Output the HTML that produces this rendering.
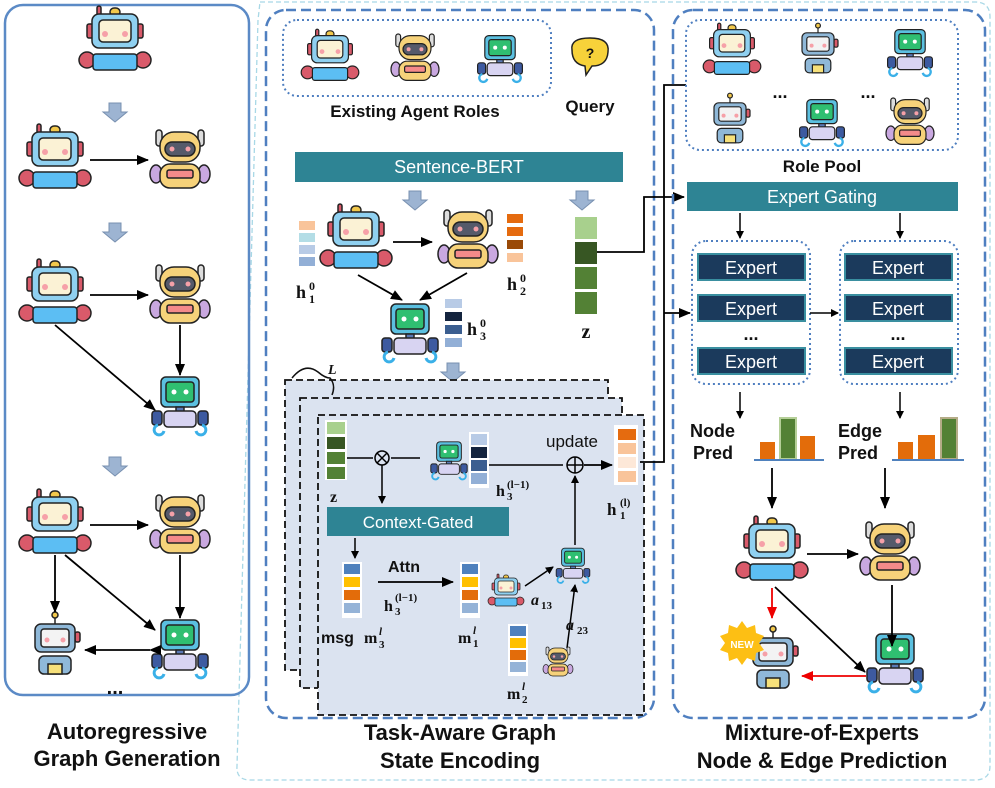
<!DOCTYPE html>
<html><head><meta charset="utf-8"><style>
html,body{margin:0;padding:0;background:#fff;}
svg{display:block;}
text{font-family:"Liberation Sans",sans-serif;}
.t{font-weight:bold;fill:#111;}
.m{font-family:"Liberation Serif",serif;font-weight:bold;fill:#111;}
</style></head><body>
<svg width="995" height="788" viewBox="0 0 995 788" xmlns="http://www.w3.org/2000/svg">
<defs>
<marker id="ah" markerWidth="8" markerHeight="8" refX="7" refY="4" orient="auto" markerUnits="userSpaceOnUse"><path d="M0,0 L8,4 L0,8 z" fill="#000"/></marker>
<marker id="ar" markerWidth="12" markerHeight="10" refX="11" refY="5" orient="auto" markerUnits="userSpaceOnUse"><path d="M0,0 L12,5 L0,10 z" fill="#000"/></marker>
<marker id="arr" markerWidth="12" markerHeight="10" refX="11" refY="5" orient="auto" markerUnits="userSpaceOnUse"><path d="M0,0 L12,5 L0,10 z" fill="#e00"/></marker>
<g id="blue" stroke="#222" stroke-width="1.5">
<rect x="-5" y="-34" width="10" height="8" rx="4" fill="#f2c84b"/>
<rect x="-18" y="-36" width="4" height="10" rx="2" fill="#d95a6a"/>
<rect x="-28" y="-18" width="6" height="14" rx="2" fill="#d95a6a"/>
<rect x="22" y="-18" width="6" height="14" rx="2" fill="#d95a6a"/>
<rect x="-23" y="-28" width="46" height="34" rx="7" fill="#8fd0f0"/>
<rect x="-16" y="-22" width="32" height="22" rx="4" fill="#fbf2d5"/>
<circle cx="-10" cy="-8" r="3" fill="#f6a0a8" stroke="none"/><circle cx="10" cy="-8" r="3" fill="#f6a0a8" stroke="none"/>
<circle cx="-28" cy="18" r="8" fill="#d95a6a"/><circle cx="28" cy="18" r="8" fill="#d95a6a"/>
<rect x="-22" y="12" width="44" height="16" rx="3" fill="#5cbef3"/>
</g>
<g id="yellow" stroke="#222" stroke-width="1.5">
<rect x="-24" y="-30" width="6" height="16" rx="3" fill="#ddd"/><rect x="18" y="-30" width="6" height="16" rx="3" fill="#ddd"/>
<ellipse cx="-24" cy="14" rx="6" ry="9" fill="#c9a8e0"/><ellipse cx="24" cy="14" rx="6" ry="9" fill="#c9a8e0"/>
<rect x="-20" y="-28" width="40" height="30" rx="14" fill="#f6d27a"/>
<rect x="-15" y="-18" width="30" height="14" rx="7" fill="#555a6a"/>
<circle cx="-8" cy="-11" r="2.5" fill="#f6a0a8" stroke="none"/><circle cx="8" cy="-11" r="2.5" fill="#f6a0a8" stroke="none"/>
<rect x="-20" y="4" width="40" height="24" rx="10" fill="#f6d27a"/>
<rect x="-13" y="10" width="26" height="8" rx="2" fill="#f48a8a"/>
</g>
<g id="green" stroke="#222" stroke-width="1.5">
<rect x="-19" y="-28" width="38" height="30" rx="5" fill="#5bc0e0"/>
<rect x="-14" y="-23" width="28" height="20" rx="3" fill="#2fbf71"/>
<circle cx="-6" cy="-13" r="2.5" fill="#fff" stroke="none"/><circle cx="6" cy="-13" r="2.5" fill="#fff" stroke="none"/>
<rect x="-4" y="2" width="8" height="5" fill="#5b79b5"/>
<rect x="-16" y="6" width="32" height="16" rx="4" fill="#d8d4f2"/>
<rect x="-28" y="6" width="10" height="14" rx="3" fill="#3d5aa0"/><rect x="18" y="6" width="10" height="14" rx="3" fill="#3d5aa0"/>
<path d="M-22,20 a5,5 0 1 0 6,6 M22,20 a5,5 0 1 1 -6,6" fill="none" stroke="#3ab0e8" stroke-width="3"/>
</g>
<g id="grey" stroke="#222" stroke-width="1.5">
<line x1="0" y1="-32" x2="0" y2="-24"/><circle cx="0" cy="-33" r="3" fill="#f2c84b"/>
<rect x="20" y="-16" width="5" height="10" rx="2" fill="#d95a6a"/>
<rect x="-20" y="-24" width="40" height="28" rx="6" fill="#8fb8d8"/>
<rect x="-14" y="-19" width="28" height="18" rx="3" fill="#f3f3f3"/>
<circle cx="-8" cy="-8" r="2.5" fill="#f6a0a8" stroke="none"/><circle cx="8" cy="-8" r="2.5" fill="#f6a0a8" stroke="none"/>
<rect x="-16" y="8" width="32" height="18" rx="5" fill="#8fb8d8"/>
<rect x="-7" y="16" width="14" height="10" fill="#f6e07a"/>
</g>
<g id="garrow"><path d="M-6,-9 h12 v9 h6 l-12,10 l-12,-10 h6 z" fill="#9db4d2" stroke="#7890b0" stroke-width="1"/></g>
</defs>

<!-- outer light dashed -->
<path d="M260,2 L975,2 Q990,2 990,17 L990,766 Q990,780 975,780 L250,780 Q236,780 237,766 L258,20 Z" fill="none" stroke="#a8d8e6" stroke-width="1.3" stroke-dasharray="5,3"/>

<!-- left panel -->
<rect x="5" y="5" width="244" height="690" rx="18" fill="none" stroke="#5b8ac6" stroke-width="2.5"/>
<use href="#blue" x="115" y="42"/>
<use href="#garrow" x="115" y="112"/>
<use href="#blue" x="55" y="160"/><use href="#yellow" x="180" y="160"/>
<line x1="90" y1="160" x2="148" y2="160" stroke="#000" stroke-width="1.8" marker-end="url(#ar)"/>
<use href="#garrow" x="115" y="232"/>
<use href="#blue" x="55" y="295"/><use href="#yellow" x="180" y="295"/><use href="#green" x="180" y="405"/>
<line x1="90" y1="295" x2="148" y2="295" stroke="#000" stroke-width="1.8" marker-end="url(#ar)"/>
<line x1="180" y1="325" x2="180" y2="375" stroke="#000" stroke-width="1.8" marker-end="url(#ar)"/>
<line x1="55" y1="325" x2="155" y2="410" stroke="#000" stroke-width="1.8" marker-end="url(#ar)"/>
<use href="#garrow" x="115" y="466"/>
<use href="#blue" x="55" y="525"/><use href="#yellow" x="180" y="525"/><use href="#grey" x="55" y="648"/><use href="#green" x="180" y="648"/>
<line x1="90" y1="525" x2="148" y2="525" stroke="#000" stroke-width="1.8" marker-end="url(#ar)"/>
<line x1="180" y1="555" x2="180" y2="618" stroke="#000" stroke-width="1.8" marker-end="url(#ar)"/>
<line x1="55" y1="555" x2="55" y2="612" stroke="#000" stroke-width="1.8" marker-end="url(#ar)"/>
<line x1="65" y1="555" x2="155" y2="630" stroke="#000" stroke-width="1.8" marker-end="url(#ar)"/>
<line x1="150" y1="650" x2="85" y2="650" stroke="#000" stroke-width="1.8" marker-end="url(#ar)" marker-start="url(#ar)"/>
<text x="115" y="694" class="t" font-size="20" text-anchor="middle">...</text>
<text x="127" y="739" class="t" font-size="22" text-anchor="middle">Autoregressive</text>
<text x="127" y="766" class="t" font-size="22" text-anchor="middle">Graph Generation</text>

<!-- middle panel -->
<rect x="266" y="10" width="388" height="708" rx="20" fill="none" stroke="#4f7fc0" stroke-width="2.5" stroke-dasharray="10,5"/>
<rect x="283" y="20" width="268" height="76" rx="14" fill="none" stroke="#4f7fc0" stroke-width="2" stroke-dasharray="2,3"/>
<g transform="translate(330,58) scale(0.8)"><use href="#blue"/></g>
<g transform="translate(415,58) scale(0.8)"><use href="#yellow"/></g>
<g transform="translate(500,58) scale(0.8)"><use href="#green"/></g>
<text x="415" y="117" class="t" font-size="17" text-anchor="middle">Existing Agent Roles</text>
<path d="M572,50 Q570,38 590,38 Q610,38 608,52 Q607,66 592,66 L586,75 L585,66 Q572,64 572,50 z" fill="#f7d23a" stroke="#222" stroke-width="1.5"/>
<text x="590" y="58" font-size="14" text-anchor="middle" class="t">?</text>
<text x="590" y="112" class="t" font-size="17" text-anchor="middle">Query</text>
<rect x="295" y="152" width="328" height="30" fill="#2e8494"/>
<text x="459" y="173" font-size="18" fill="#fff" text-anchor="middle">Sentence-BERT</text>
<use href="#garrow" x="415" y="200"/><use href="#garrow" x="582" y="200"/>
<!-- h1 -->
<rect x="298" y="220" width="18" height="48" fill="#fff"/>
<rect x="299" y="221" width="16" height="9" fill="#f9c49a"/><rect x="299" y="233" width="16" height="9" fill="#b3dde6"/><rect x="299" y="245" width="16" height="9" fill="#b8cbe6"/><rect x="299" y="257" width="16" height="9" fill="#92afd6"/>
<text x="296" y="298" class="m" font-size="18">h</text><text x="309" y="290" class="m" font-size="12">0</text><text x="309" y="303" class="m" font-size="12">1</text>
<use href="#blue" x="356" y="240"/><use href="#yellow" x="468" y="240"/>
<line x1="393" y1="242" x2="432" y2="242" stroke="#000" stroke-width="1.8" marker-end="url(#ar)"/>
<rect x="507" y="214" width="16" height="9" fill="#e56b0f"/><rect x="507" y="227" width="16" height="9" fill="#e56b0f"/><rect x="507" y="240" width="16" height="9" fill="#9a4a08"/><rect x="507" y="253" width="16" height="9" fill="#f9c49a"/>
<text x="507" y="290" class="m" font-size="18">h</text><text x="520" y="282" class="m" font-size="12">0</text><text x="520" y="295" class="m" font-size="12">2</text>
<line x1="358" y1="275" x2="402" y2="300" stroke="#000" stroke-width="1.8" marker-end="url(#ar)"/>
<line x1="467" y1="273" x2="420" y2="300" stroke="#000" stroke-width="1.8" marker-end="url(#ar)"/>
<use href="#green" x="410" y="332"/>
<rect x="445" y="299" width="17" height="9" fill="#b8cbe6"/><rect x="445" y="312" width="17" height="9" fill="#14243e"/><rect x="445" y="325" width="17" height="9" fill="#3b5e90"/><rect x="445" y="338" width="17" height="9" fill="#92afd6"/>
<text x="467" y="335" class="m" font-size="18">h</text><text x="480" y="327" class="m" font-size="12">0</text><text x="480" y="340" class="m" font-size="12">3</text>
<rect x="575" y="217" width="22" height="22" fill="#a8d08d"/><rect x="575" y="242" width="22" height="22" fill="#375623"/><rect x="575" y="267" width="22" height="22" fill="#538135"/><rect x="575" y="292" width="22" height="22" fill="#538135"/>
<text x="586" y="338" class="m" font-size="20" text-anchor="middle">z</text>
<use href="#garrow" x="453" y="372"/>
<!-- layer stack -->
<rect x="285" y="380" width="323" height="290" fill="#dbe3f0" stroke="#111" stroke-width="1.8" stroke-dasharray="7,4"/>
<rect x="300" y="398" width="322" height="290" fill="#dbe3f0" stroke="#111" stroke-width="1.8" stroke-dasharray="7,4"/>
<rect x="318" y="415" width="326" height="300" fill="#dbe3f0" stroke="#111" stroke-width="1.8" stroke-dasharray="7,4"/>
<path d="M292,378 Q305,362 318,372 Q325,378 330,378 Q336,385 332,395" fill="none" stroke="#111" stroke-width="1.5"/>
<text x="328" y="374" class="m" font-size="14" font-style="italic">L</text>
<rect x="325" y="420" width="22" height="60" fill="#fff"/>
<rect x="327" y="422" width="18" height="12" fill="#a8d08d"/><rect x="327" y="437" width="18" height="12" fill="#375623"/><rect x="327" y="452" width="18" height="12" fill="#538135"/><rect x="327" y="467" width="18" height="12" fill="#538135"/>
<text x="330" y="502" class="m" font-size="16">z</text>
<line x1="347" y1="458" x2="373" y2="458" stroke="#000" stroke-width="1.5"/>
<circle cx="382" cy="458" r="7" fill="none" stroke="#000" stroke-width="1.5"/>
<path d="M377,453 L387,463 M387,453 L377,463" stroke="#000" stroke-width="1.5"/>
<line x1="391" y1="458" x2="420" y2="458" stroke="#000" stroke-width="1.5"/>
<line x1="382" y1="465" x2="382" y2="503" stroke="#000" stroke-width="1.5" marker-end="url(#ah)"/>
<g transform="translate(449,460) scale(0.65)"><use href="#green"/></g>
<rect x="469" y="432" width="20" height="56" fill="#fff"/>
<rect x="471" y="434" width="16" height="11" fill="#b8cbe6"/><rect x="471" y="447" width="16" height="11" fill="#14243e"/><rect x="471" y="460" width="16" height="11" fill="#3b5e90"/><rect x="471" y="473" width="16" height="11" fill="#92afd6"/>
<text x="496" y="496" class="m" font-size="16">h</text><text x="507" y="488" class="m" font-size="11">(l−1)</text><text x="507" y="500" class="m" font-size="11">3</text>
<line x1="489" y1="465" x2="563" y2="465" stroke="#000" stroke-width="1.5"/>
<text x="572" y="447" font-size="17" fill="#111" text-anchor="middle">update</text>
<circle cx="575" cy="465" r="8" fill="none" stroke="#000" stroke-width="1.5"/>
<path d="M567,465 H583 M575,457 V473" stroke="#000" stroke-width="1.5"/>
<line x1="584" y1="465" x2="612" y2="465" stroke="#000" stroke-width="1.8" marker-end="url(#ar)"/>
<rect x="614" y="425" width="24" height="60" fill="#fff"/>
<rect x="618" y="429" width="18" height="11" fill="#e56b0f"/><rect x="618" y="443" width="18" height="11" fill="#f9c49a"/><rect x="618" y="457" width="18" height="11" fill="#fde8d8"/><rect x="618" y="471" width="18" height="11" fill="#f9c49a"/>
<text x="607" y="515" class="m" font-size="17">h</text><text x="620" y="506" class="m" font-size="11">(l)</text><text x="620" y="519" class="m" font-size="11">1</text>
<rect x="327" y="507" width="182" height="29" fill="#2e8494"/>
<text x="418" y="528" font-size="17" fill="#fff" text-anchor="middle">Context-Gated</text>
<line x1="355" y1="538" x2="355" y2="558" stroke="#000" stroke-width="1.5" marker-end="url(#ah)"/>
<rect x="342" y="562" width="20" height="56" fill="#fff"/>
<rect x="344" y="564" width="16" height="10" fill="#4f81bd"/><rect x="344" y="577" width="16" height="10" fill="#ffc000"/><rect x="344" y="590" width="16" height="10" fill="#e36c0a"/><rect x="344" y="603" width="16" height="10" fill="#95b3d7"/>
<text x="321" y="643" class="t" font-size="16">msg</text>
<text x="364" y="643" class="m" font-size="16">m</text><text x="379" y="635" class="m" font-size="11" font-style="italic">l</text><text x="379" y="648" class="m" font-size="11">3</text>
<text x="404" y="572" class="t" font-size="16" text-anchor="middle">Attn</text>
<line x1="378" y1="582" x2="453" y2="582" stroke="#000" stroke-width="1.8" marker-end="url(#ar)"/>
<text x="384" y="611" class="m" font-size="16">h</text><text x="395" y="601" class="m" font-size="11">(l−1)</text><text x="395" y="615" class="m" font-size="11">3</text>
<rect x="460" y="562" width="20" height="56" fill="#fff"/>
<rect x="462" y="564" width="16" height="10" fill="#4f81bd"/><rect x="462" y="577" width="16" height="10" fill="#ffc000"/><rect x="462" y="590" width="16" height="10" fill="#e36c0a"/><rect x="462" y="603" width="16" height="10" fill="#95b3d7"/>
<text x="458" y="643" class="m" font-size="16">m</text><text x="473" y="634" class="m" font-size="11" font-style="italic">l</text><text x="473" y="647" class="m" font-size="11">1</text>
<g transform="translate(506,592) scale(0.5)"><use href="#blue"/></g>
<text x="531" y="605" class="m" font-size="16" font-style="italic">a</text><text x="541" y="609" class="m" font-size="11">13</text>
<g transform="translate(573,565) scale(0.6)"><use href="#green"/></g>
<line x1="525" y1="586" x2="553" y2="567" stroke="#000" stroke-width="1.5" marker-end="url(#ah)"/>
<line x1="575" y1="545" x2="575" y2="476" stroke="#000" stroke-width="1.5" marker-end="url(#ah)"/>
<line x1="567" y1="648" x2="575" y2="585" stroke="#000" stroke-width="1.5" marker-end="url(#ah)"/>
<text x="566" y="630" class="m" font-size="16" font-style="italic">a</text><text x="577" y="634" class="m" font-size="11">23</text>
<rect x="508" y="624" width="20" height="52" fill="#fff"/>
<rect x="510" y="626" width="16" height="10" fill="#4f81bd"/><rect x="510" y="638" width="16" height="10" fill="#ffc000"/><rect x="510" y="650" width="16" height="10" fill="#e36c0a"/><rect x="510" y="662" width="16" height="10" fill="#95b3d7"/>
<text x="507" y="699" class="m" font-size="16">m</text><text x="522" y="690" class="m" font-size="11" font-style="italic">l</text><text x="522" y="703" class="m" font-size="11">2</text>
<g transform="translate(558,662) scale(0.5)"><use href="#yellow"/></g>
<text x="460" y="740" class="t" font-size="22" text-anchor="middle">Task-Aware Graph</text>
<text x="460" y="768" class="t" font-size="22" text-anchor="middle">State Encoding</text>

<!-- connectors -->
<polyline points="597,252 644,252 644,197 684,197" fill="none" stroke="#000" stroke-width="1.8" marker-end="url(#ar)"/>
<polyline points="686,85 664,85 664,462 640,462" fill="none" stroke="#000" stroke-width="1.8"/>
<line x1="664" y1="313" x2="690" y2="313" stroke="#000" stroke-width="1.8" marker-end="url(#ar)"/>

<!-- right panel -->
<rect x="673" y="10" width="312" height="708" rx="20" fill="none" stroke="#4f7fc0" stroke-width="2.5" stroke-dasharray="10,5"/>
<rect x="686" y="20" width="272" height="130" rx="14" fill="none" stroke="#4f7fc0" stroke-width="2" stroke-dasharray="2,3"/>
<g transform="translate(732,52) scale(0.8)"><use href="#blue"/></g>
<g transform="translate(818,52) scale(0.8)"><use href="#grey"/></g>
<g transform="translate(910,52) scale(0.8)"><use href="#green"/></g>
<g transform="translate(730,122) scale(0.8)"><use href="#grey"/></g>
<g transform="translate(822,122) scale(0.8)"><use href="#green"/></g>
<g transform="translate(910,122) scale(0.8)"><use href="#yellow"/></g>
<text x="780" y="98" class="t" font-size="18" text-anchor="middle">...</text>
<text x="868" y="98" class="t" font-size="18" text-anchor="middle">...</text>
<text x="822" y="172" class="t" font-size="17" text-anchor="middle">Role Pool</text>
<rect x="687" y="182" width="271" height="29" fill="#2e8494"/>
<text x="822" y="203" font-size="18" fill="#fff" text-anchor="middle">Expert Gating</text>
<line x1="740" y1="213" x2="740" y2="238" stroke="#000" stroke-width="1.5" marker-end="url(#ah)"/>
<line x1="900" y1="213" x2="900" y2="238" stroke="#000" stroke-width="1.5" marker-end="url(#ah)"/>
<rect x="692" y="241" width="118" height="143" rx="14" fill="none" stroke="#4f7fc0" stroke-width="2" stroke-dasharray="2,3"/>
<rect x="840" y="241" width="118" height="143" rx="14" fill="none" stroke="#4f7fc0" stroke-width="2" stroke-dasharray="2,3"/>
<g font-size="18" fill="#fff" text-anchor="middle">
<rect x="698" y="254" width="107" height="26" fill="#1b3a5c" stroke="#3a8fa0" stroke-width="2"/><text x="751" y="274">Expert</text>
<rect x="698" y="295" width="107" height="26" fill="#1b3a5c" stroke="#3a8fa0" stroke-width="2"/><text x="751" y="315">Expert</text>
<rect x="698" y="348" width="107" height="26" fill="#1b3a5c" stroke="#3a8fa0" stroke-width="2"/><text x="751" y="368">Expert</text>
<rect x="845" y="254" width="107" height="26" fill="#1b3a5c" stroke="#3a8fa0" stroke-width="2"/><text x="898" y="274">Expert</text>
<rect x="845" y="295" width="107" height="26" fill="#1b3a5c" stroke="#3a8fa0" stroke-width="2"/><text x="898" y="315">Expert</text>
<rect x="845" y="348" width="107" height="26" fill="#1b3a5c" stroke="#3a8fa0" stroke-width="2"/><text x="898" y="368">Expert</text>
</g>
<text x="751" y="340" class="t" font-size="18" text-anchor="middle">...</text>
<text x="898" y="340" class="t" font-size="18" text-anchor="middle">...</text>
<line x1="810" y1="313" x2="838" y2="313" stroke="#000" stroke-width="1.5" marker-end="url(#ah)"/>
<line x1="740" y1="392" x2="740" y2="418" stroke="#000" stroke-width="1.5" marker-end="url(#ah)"/>
<line x1="900" y1="392" x2="900" y2="418" stroke="#000" stroke-width="1.5" marker-end="url(#ah)"/>
<text x="690" y="437" class="t" font-size="18">Node</text><text x="693" y="459" class="t" font-size="18">Pred</text>
<text x="838" y="437" class="t" font-size="18">Edge</text><text x="838" y="459" class="t" font-size="18">Pred</text>
<rect x="760" y="442" width="15" height="17" fill="#e36c0a"/>
<rect x="780" y="418" width="16" height="41" fill="#538135" stroke="#b5cf98" stroke-width="2"/>
<rect x="800" y="436" width="15" height="23" fill="#e36c0a"/>
<line x1="754" y1="460" x2="824" y2="460" stroke="#4f81bd" stroke-width="2"/>
<rect x="898" y="442" width="15" height="17" fill="#e36c0a"/>
<rect x="918" y="435" width="17" height="24" fill="#e36c0a"/>
<rect x="941" y="418" width="16" height="41" fill="#538135" stroke="#b5ac88" stroke-width="2"/>
<line x1="892" y1="460" x2="964" y2="460" stroke="#4f81bd" stroke-width="2"/>
<line x1="772" y1="468" x2="772" y2="508" stroke="#000" stroke-width="1.8" marker-end="url(#ar)"/>
<line x1="885" y1="468" x2="885" y2="508" stroke="#000" stroke-width="1.8" marker-end="url(#ar)"/>
<use href="#blue" x="772" y="552"/><use href="#yellow" x="890" y="552"/>
<use href="#green" x="895" y="662"/><use href="#grey" x="773" y="662"/>
<line x1="807" y1="554" x2="858" y2="554" stroke="#000" stroke-width="1.8" marker-end="url(#ar)"/>
<line x1="892" y1="585" x2="892" y2="646" stroke="#000" stroke-width="1.8" marker-end="url(#ar)"/>
<line x1="775" y1="587" x2="865" y2="672" stroke="#000" stroke-width="1.8" marker-end="url(#ar)"/>
<line x1="772" y1="588" x2="772" y2="618" stroke="#e00" stroke-width="1.8" marker-end="url(#arr)"/>
<line x1="866" y1="676" x2="802" y2="676" stroke="#e00" stroke-width="1.8" marker-end="url(#arr)"/>
<polygon points="742,621 747,628 755,625 756,633 764,636 759,643 764,650 756,653 755,661 747,658 742,665 737,658 729,661 728,653 720,650 725,643 720,636 728,633 729,625 737,628" fill="#fdbf14"/>
<text x="742" y="648" font-size="10" font-weight="bold" fill="#fff" text-anchor="middle">NEW</text>
<text x="822" y="740" class="t" font-size="22" text-anchor="middle">Mixture-of-Experts</text>
<text x="822" y="768" class="t" font-size="22" text-anchor="middle">Node &amp; Edge Prediction</text>
</svg>
</body></html>
